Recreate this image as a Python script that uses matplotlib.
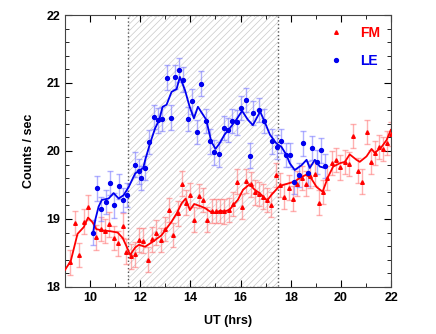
import numpy as np
import matplotlib
matplotlib.use('Agg')
import matplotlib.pyplot as plt
from matplotlib.patches import Rectangle

plt.rcParams['font.family'] = ['Liberation Sans', 'DejaVu Sans']
plt.rcParams['hatch.linewidth'] = 0.5

# FM (red) measured points
fm_t = [9.22, 9.40, 9.57, 9.74, 9.91, 10.24, 10.42, 10.60, 10.77, 10.94, 11.11, 11.30,
        11.45, 11.62, 11.78, 11.96, 12.13, 12.30, 12.47, 12.64, 12.82, 12.98, 13.15, 13.31,
        13.49, 13.67, 13.83, 13.99, 14.16, 14.34, 14.51, 14.68, 14.85, 15.02, 15.18, 15.35,
        15.52, 15.70, 15.86, 16.04, 16.22, 16.40, 16.56, 16.72, 16.89, 17.06, 17.22, 17.43,
        17.58, 17.74, 17.92, 18.08, 18.26, 18.44, 18.60, 18.78, 18.96, 19.12, 19.29, 19.46,
        19.63, 19.80, 19.98, 20.16, 20.33, 20.49, 20.68, 20.85, 21.02, 21.19, 21.35, 21.52,
        21.68, 21.84, 21.99]
fm_y = [18.36, 18.94, 18.47, 18.96, 19.17, 18.73, 18.85, 18.82, 18.92, 18.72, 18.64, 18.90,
        18.52, 18.45, 18.48, 18.69, 18.68, 18.40, 18.70, 18.80, 18.69, 18.85, 19.13, 18.76,
        19.08, 19.52, 19.24, 19.35, 18.99, 19.34, 19.28, 18.99, 19.12, 19.12, 19.12, 19.11,
        19.13, 19.22, 19.55, 19.18, 19.56, 19.51, 19.39, 19.37, 19.33, 19.28, 19.21, 19.65,
        19.50, 19.33, 19.46, 19.30, 19.52, 19.60, 19.52, 19.63, 19.66, 19.24, 19.40, 19.60,
        19.82, 19.87, 19.76, 19.84, 19.81, 20.22, 19.71, 19.55, 20.28, 19.84, 19.97, 20.06,
        20.03, 20.12, 20.25]
fm_err = 0.18

# FM smoothed curve
fm_st = [9.0, 9.23, 9.5, 9.75, 9.92, 10.1, 10.25, 10.5, 10.8, 11.1, 11.3, 11.45, 11.6,
         11.8, 11.95, 12.19, 12.52, 12.85, 13.05, 13.25, 13.45, 13.65, 13.81, 13.98, 14.15,
         14.38, 14.58, 14.78, 14.98, 15.18, 15.38, 15.57, 15.7, 15.89, 16.1, 16.36, 16.56,
         16.76, 17.06, 17.22, 17.49, 17.69, 17.88, 18.15, 18.35, 18.61, 18.81, 19.03, 19.27,
         19.49, 19.69, 19.96, 20.16, 20.35, 20.62, 20.75, 21.02, 21.22, 21.35, 21.62, 21.82,
         21.99]
fm_sy = [18.25, 18.38, 18.78, 18.88, 19.02, 18.95, 18.85, 18.83, 18.82, 18.80, 18.72,
         18.60, 18.47, 18.58, 18.62, 18.59, 18.67, 18.76, 18.86, 18.96, 19.08, 19.23, 19.30,
         19.13, 19.22, 19.19, 19.16, 19.11, 19.09, 19.12, 19.11, 19.14, 19.20, 19.28, 19.43,
         19.51, 19.43, 19.38, 19.27, 19.35, 19.46, 19.50, 19.52, 19.55, 19.60, 19.65, 19.60,
         19.47, 19.40, 19.62, 19.77, 19.82, 19.84, 19.95, 19.87, 19.84, 19.92, 20.03, 19.97,
         20.06, 20.16, 20.31]

# LE (blue) measured points
le_t = [10.12, 10.28, 10.45, 10.63, 10.80, 10.97, 11.15, 11.31, 11.48, 11.78, 11.95, 12.05,
        12.18, 12.35, 12.53, 12.70, 12.87, 13.05, 13.23, 13.40, 13.56, 13.72, 13.90, 14.08,
        14.25, 14.43, 14.61, 14.78, 14.96, 15.14, 15.32, 15.50, 15.67, 15.85, 16.03, 16.20,
        16.38, 16.48, 16.75, 16.93, 17.26, 17.47, 17.63, 17.80, 17.96, 18.13, 18.33, 18.49,
        18.67, 18.83, 19.03, 19.20, 19.36]
le_y = [18.80, 19.45, 19.15, 19.25, 19.53, 19.20, 19.48, 19.28, 19.35, 19.80, 19.70, 19.60,
        19.75, 20.13, 20.50, 20.45, 20.47, 21.08, 20.49, 21.09, 21.19, 21.05, 20.47, 20.73,
        20.28, 20.99, 20.44, 20.14, 19.98, 19.95, 20.34, 20.31, 20.44, 20.42, 20.63, 20.75,
        19.93, 20.56, 20.60, 20.44, 20.14, 20.06, 20.15, 19.94, 19.94, 19.55, 19.65, 20.11,
        19.67, 20.04, 19.84, 20.01, 19.78]
le_err = 0.18

# LE smoothed curve
le_st = [10.12, 10.21, 10.34, 10.47, 10.74, 10.94, 11.14, 11.34, 11.54, 11.80, 12.0, 12.12,
         12.2, 12.39, 12.59, 12.76, 12.89, 13.05, 13.25, 13.45, 13.58, 13.78, 13.97, 14.14,
         14.30, 14.63, 14.83, 15.0, 15.16, 15.36, 15.56, 15.83, 16.06, 16.29, 16.49, 16.78,
         16.97, 17.17, 17.43, 17.63, 17.83, 17.96, 18.16, 18.43, 18.63, 18.76, 18.96, 19.16,
         19.36]
le_sy = [18.79, 18.99, 19.18, 19.28, 19.30, 19.38, 19.30, 19.35, 19.47, 19.67, 19.72, 19.75,
         19.87, 20.11, 20.33, 20.46, 20.65, 20.68, 20.87, 20.91, 21.09, 20.90, 20.65, 20.48,
         20.65, 20.46, 20.14, 20.03, 20.11, 20.24, 20.33, 20.46, 20.59, 20.46, 20.38, 20.58,
         20.42, 20.24, 20.11, 20.06, 19.94, 19.82, 19.72, 19.79, 19.87, 19.75, 19.87, 19.77,
         19.75]

span = (11.5, 17.5)

fig = plt.figure(figsize=(4.36, 3.34), dpi=100)
ax = fig.add_axes([0.149, 0.141, 0.748, 0.814])

# hatched interval
ax.add_patch(Rectangle((span[0], 18), span[1] - span[0], 4, fill=False, hatch='/////',
                       edgecolor='#c8c8c8', linewidth=0, zorder=0))
ax.add_patch(Rectangle((span[0], 18), span[1] - span[0], 4, fill=False,
                       edgecolor='#555555', linestyle=':', linewidth=1, zorder=1))

ax.errorbar(fm_t, fm_y, yerr=fm_err, fmt='none', ecolor='#ff7070', alpha=0.55,
            elinewidth=1, capsize=2.5, capthick=1, zorder=2)
ax.errorbar(le_t, le_y, yerr=le_err, fmt='none', ecolor='#7070ff', alpha=0.55,
            elinewidth=1, capsize=2.5, capthick=1, zorder=2)
ax.plot(fm_st, fm_sy, color='#ff0000', lw=1.3, zorder=3)
ax.plot(le_st, le_sy, color='#0000ee', lw=1.3, zorder=3)
ax.plot(fm_t, fm_y, '^', color='#ff0000', ms=2.6, ls='none', label='FM', zorder=4)
ax.plot(le_t, le_y, 'o', color='#0000ee', ms=2.8, ls='none', label='LE', zorder=4)

ax.set_xlim(9, 22)
ax.set_ylim(18, 22)
ax.set_xticks([10, 12, 14, 16, 18, 20, 22])
ax.set_xticks(np.arange(9, 23, 1), minor=True)
ax.set_yticks([18, 19, 20, 21, 22])
ax.set_yticks(np.arange(18, 22.01, 0.2), minor=True)
ax.tick_params(which='both', direction='in', top=True, right=True)
ax.tick_params(which='major', length=5, labelsize=9)
ax.tick_params(which='minor', length=3)
for lab in ax.get_xticklabels() + ax.get_yticklabels():
    lab.set_fontweight('bold')
for s in ax.spines.values():
    s.set_color('#444444')

ax.set_xlabel('UT (hrs)', fontweight='bold', fontsize=9, labelpad=8)
ax.set_ylabel('Counts / sec', fontweight='bold', fontsize=9, labelpad=8)

leg = ax.legend(loc='upper right', frameon=False, handletextpad=1.2, labelspacing=1.0,
                handlelength=1.0, markerscale=1.0, borderaxespad=0.4,
                prop={'weight': 'bold', 'size': 10}, labelcolor='markerfacecolor')

fig.savefig('out.png', dpi=100)
